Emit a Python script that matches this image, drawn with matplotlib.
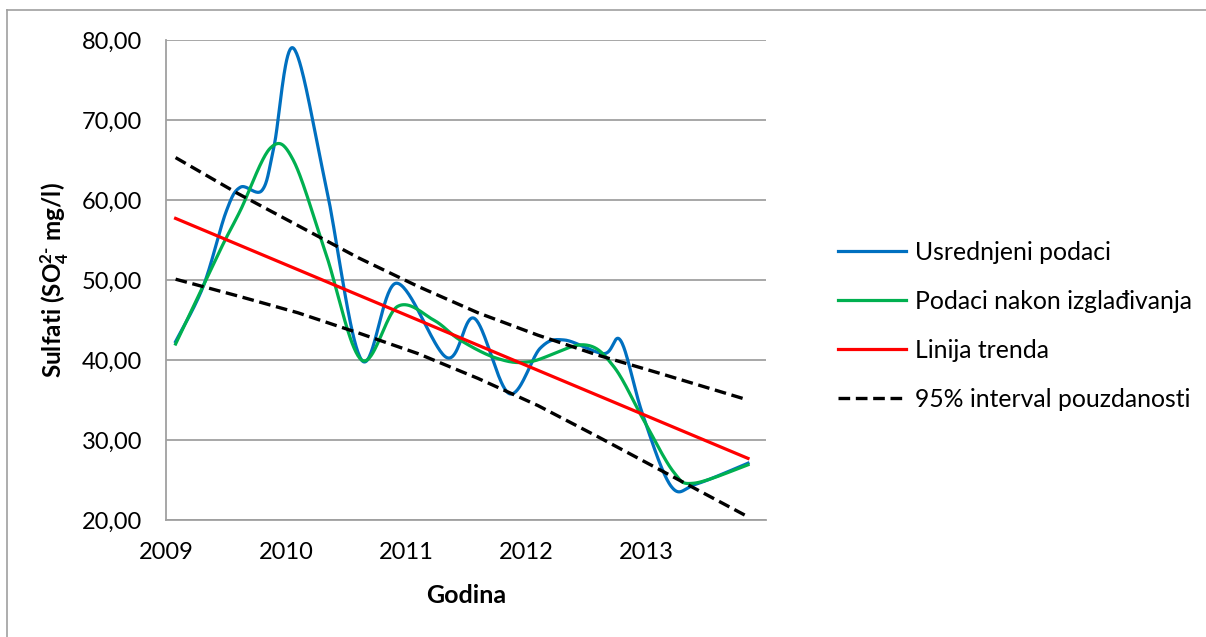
import numpy as np
import matplotlib
matplotlib.use('Agg')
import matplotlib.pyplot as plt
from matplotlib.lines import Line2D
from matplotlib.ticker import FuncFormatter

plt.rcParams['font.family'] = ['Lato', 'DejaVu Sans']
plt.rcParams['mathtext.fontset'] = 'custom'
plt.rcParams['mathtext.rm'] = 'Lato:bold'
plt.rcParams['mathtext.default'] = 'rm'

# averaged data (blue)
blue_x = [2009.08, 2009.31, 2009.50, 2009.62, 2009.80, 2009.90, 2010.06, 2010.33, 2010.63, 2010.92, 2011.34,
          2011.57, 2011.86, 2012.12, 2012.32, 2012.65, 2012.79, 2012.97, 2013.21, 2013.42, 2013.85]
blue_y = [42.3, 49.2, 58.5, 61.6, 61.2, 66.7, 79.0, 62.0, 40.0, 49.6, 40.3,
          45.2, 35.8, 41.5, 42.5, 40.8, 42.4, 33.3, 24.2, 24.5, 27.1]

# smoothed data (green)
green_x = [2009.08, 2009.45, 2009.62, 2009.87, 2010.06, 2010.33, 2010.63, 2010.93, 2011.23,
           2011.45, 2011.76, 2012.04, 2012.48, 2012.73, 2012.98, 2013.23, 2013.40, 2013.85]
green_y = [42.0, 53.7, 58.7, 66.5, 65.0, 53.4, 40.0, 46.7, 45.0,
           42.5, 40.2, 39.8, 41.9, 39.2, 32.5, 26.0, 24.6, 26.9]

# trend line
trend_x = [2009.08, 2013.85]
trend_y = [57.7, 27.7]

# 95% confidence band
ci_x = [2009.08, 2009.6, 2010.1, 2010.6, 2011.1, 2011.6, 2012.1, 2012.6, 2013.1, 2013.85]
ci_upper = [65.3, 60.8, 56.8, 52.8, 49.2, 45.9, 43.1, 40.6, 38.4, 35.0]
ci_lower = [50.1, 48.0, 45.9, 43.4, 40.8, 37.7, 34.3, 30.4, 26.4, 20.4]

years = [2009, 2010, 2011, 2012, 2013]
yticks = [20, 30, 40, 50, 60, 70, 80]


def smooth(x, y, n=40):
    # excel-like smoothed line (bezier through points)
    p = np.column_stack([x, y]).astype(float)
    p = np.vstack([p[0], p, p[-1]])
    out = []
    t = np.linspace(0, 1, n)[:, None]
    for i in range(1, len(p) - 2):
        p0, p1, p2, p3 = p[i - 1], p[i], p[i + 1], p[i + 2]
        c1 = p1 + (p2 - p0) / 6
        c2 = p2 - (p3 - p1) / 6
        seg = (1 - t) ** 3 * p1 + 3 * (1 - t) ** 2 * t * c1 + 3 * (1 - t) * t ** 2 * c2 + t ** 3 * p2
        out.append(seg)
    out = np.vstack(out)
    return out[:, 0], out[:, 1]


fig = plt.figure(figsize=(12.06, 6.37), dpi=100)
ax = fig.add_axes([166 / 1206, 1 - 520 / 637, 600 / 1206, 480 / 637])

# chart area border
fig.add_artist(Line2D([7 / 1206, 1], [1 - 9.5 / 637] * 2, color='#a0a0a0', lw=1.2))
fig.add_artist(Line2D([7 / 1206] * 2, [0, 1 - 9.5 / 637], color='#a0a0a0', lw=1.2))

bx, by = smooth(blue_x, blue_y)
gx, gy = smooth(green_x, green_y)
ax.plot(bx, by, color='#0070C0', lw=2.3, label='Usrednjeni podaci', zorder=3)
ax.plot(gx, gy, color='#00B050', lw=2.3, label='Podaci nakon izglađivanja', zorder=4)
ax.plot(trend_x, trend_y, color='#FF0000', lw=2.3, label='Linija trenda', zorder=5)
ax.plot(ci_x, ci_upper, color='black', lw=2.4, dashes=(3.5, 1.7), label='95% interval pouzdanosti', zorder=6)
ax.plot(ci_x, ci_lower, color='black', lw=2.4, dashes=(3.5, 1.7), zorder=6)

ax.set_xlim(2009, 2014)
ax.set_ylim(20, 80)
ax.set_xticks(years)
ax.set_yticks(yticks)
ax.yaxis.set_major_formatter(FuncFormatter(lambda v, p: f'{v:.2f}'.replace('.', ',')))
ax.grid(axis='y', color='#a0a0a0', lw=1.3)
ax.set_axisbelow(True)
for s in ['top', 'right']:
    ax.spines[s].set_visible(False)
for s in ['left', 'bottom']:
    ax.spines[s].set_color('#a0a0a0')
    ax.spines[s].set_linewidth(1.3)
ax.tick_params(axis='both', length=0, labelsize=17)
ax.tick_params(axis='x', pad=16)
ax.tick_params(axis='y', pad=17)

ax.set_xlabel('Godina', fontsize=18, fontweight='bold', labelpad=15)
ax.set_ylabel(r'Sulfati (SO$_4^{2\text{-}}$ mg/l)', fontsize=17.5, fontweight='bold', labelpad=8)

ax.legend(loc='center left', bbox_to_anchor=(826 / 1206, 1 - 326 / 637), bbox_transform=fig.transFigure,
          frameon=False, fontsize=17.8, borderpad=0, handlelength=2.75, handletextpad=0.35,
          labelspacing=1.05)

fig.savefig('out.png', dpi=100)
